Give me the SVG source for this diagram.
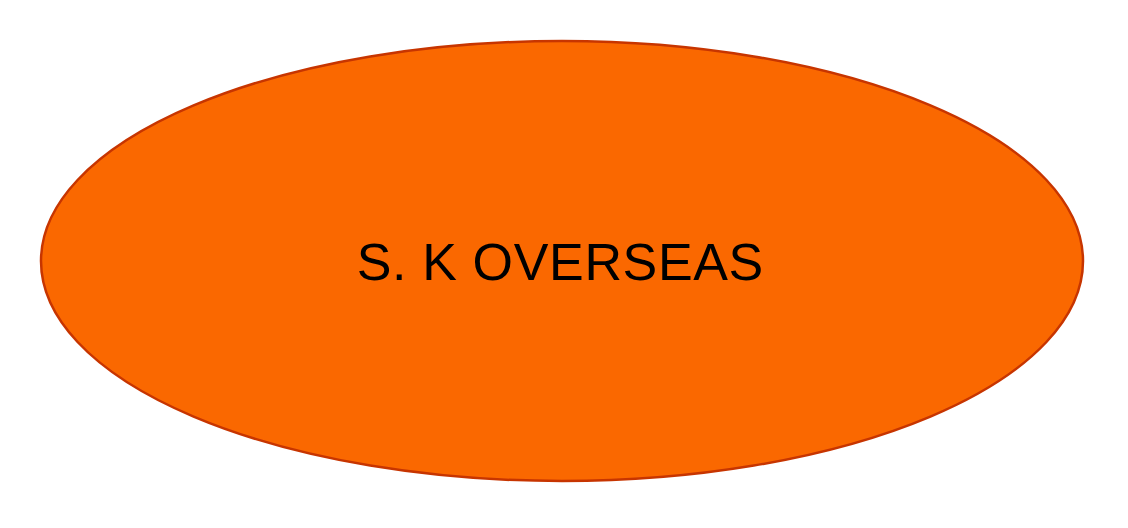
<svg xmlns="http://www.w3.org/2000/svg" width="1128" height="528" viewBox="0 0 1128 528">
<style>
.node-shape{fill:#FA6800;stroke:#C73500;stroke-width:2.5}
.label{font-family:"Liberation Sans",Arial,sans-serif;font-size:52px;letter-spacing:0.65px;fill:#000}
</style>
<rect width="1128" height="528" fill="#fff"/>
<g id="connectors"></g>
<g id="node-sk-overseas">
<ellipse class="node-shape" cx="562" cy="261" rx="521" ry="220"/>
<text class="label" x="560.3" y="280" text-anchor="middle">S. K OVERSEAS</text>
</g>
</svg>
